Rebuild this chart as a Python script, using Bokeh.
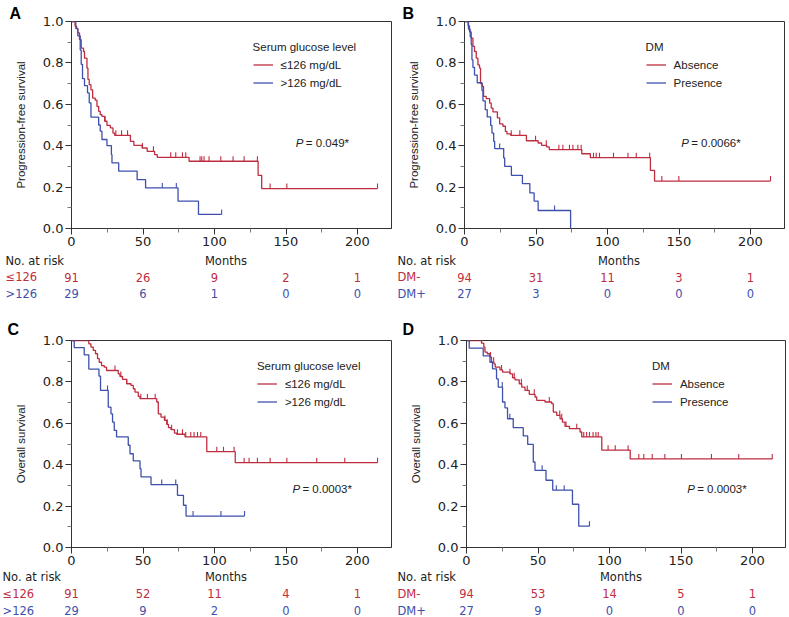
import numpy as np
from bokeh.plotting import figure
from bokeh.models import (FixedTicker, PrintfTickFormatter, Label, Legend,
                          LegendItem, Range1d, Title)
from bokeh.layouts import column, row
from bokeh.embed import file_html
from bokeh.resources import INLINE
from bokeh.core.properties import value

RED = "#BF2D40"
BLUE = "#3E50AD"

# ---------------- data ----------------
risk_months = [0, 50, 100, 150, 200]

# A: progression-free survival by serum glucose level
a_low_t = [2.5, 3.5, 4.4, 5.6, 6.8, 8.4, 9.1, 10.8, 11.5, 12.4, 13.6, 14.8, 16.6, 17.8,
           19.0, 20.1, 21.3, 23.2, 24.8, 27.2, 29.0, 30.2, 41.2, 43.6, 49.4, 52.9, 58.1,
           60.0, 82.2, 130.5, 133.0]
a_low_s = [0.978, 0.967, 0.945, 0.912, 0.871, 0.855, 0.823, 0.775, 0.72, 0.695, 0.67, 0.63,
           0.62, 0.59, 0.566, 0.55, 0.542, 0.518, 0.498, 0.486, 0.461, 0.450, 0.421, 0.402,
           0.389, 0.373, 0.357, 0.344, 0.325, 0.257, 0.193]
a_low_end = 214.0
a_low_cens = [23.5, 31.0, 35.0, 39.2, 49.6, 57.3, 69.4, 72.9, 77.6, 79.9, 89.9, 91.1, 92.7,
              96.2, 104.4, 113.0, 120.7, 130.0, 138.9, 150.6, 214.0]

a_high_t = [3.0, 4.4, 6.1, 6.8, 7.7, 9.1, 11.2, 12.4, 13.6, 19.0, 20.1, 21.3, 24.8, 27.9,
            28.3, 33.0, 45.9, 51.8, 74.5, 88.8]
a_high_s = [0.966, 0.931, 0.862, 0.793, 0.724, 0.69, 0.655, 0.607, 0.538, 0.50, 0.47, 0.43,
            0.40, 0.357, 0.317, 0.277, 0.236, 0.196, 0.132, 0.068]
a_high_end = 105.0
a_high_cens = [63.5, 73.3, 105.0]

# B: progression-free survival by DM
b_abs_t = [2.5, 3.5, 4.7, 5.9, 7.0, 8.2, 9.4, 10.5, 11.2, 12.4, 13.3, 15.2, 17.6, 18.7,
           19.9, 23.0, 24.6, 26.9, 28.6, 29.7, 32.3, 43.3, 51.5, 53.9, 57.4, 59.3, 82.0,
           88.0, 130.0, 132.9]
b_abs_s = [0.979, 0.95, 0.92, 0.88, 0.855, 0.823, 0.79, 0.775, 0.70, 0.687, 0.638, 0.627,
           0.606, 0.582, 0.563, 0.534, 0.505, 0.494, 0.469, 0.457, 0.450, 0.424, 0.413,
           0.402, 0.394, 0.381, 0.361, 0.342, 0.281, 0.229]
b_abs_end = 214.0
b_abs_cens = [32.7, 38.7, 49.7, 57.2, 66.0, 68.8, 73.4, 75.8, 79.3, 81.6, 90.2, 92.1, 94.4,
              104.2, 114.3, 120.1, 129.5, 138.0, 149.9, 214.0]

b_pres_t = [2.8, 4.0, 4.7, 5.2, 5.9, 7.0, 8.9, 12.2, 12.9, 14.5, 15.9, 18.3, 19.2, 20.4,
            21.1, 27.4, 28.1, 32.8, 40.5, 45.7, 48.7, 51.5, 74.2]
b_pres_s = [0.963, 0.926, 0.889, 0.815, 0.778, 0.741, 0.704, 0.667, 0.617, 0.574, 0.539,
            0.498, 0.461, 0.421, 0.386, 0.341, 0.30, 0.257, 0.217, 0.172, 0.132, 0.087, 0.0]
b_pres_end = 74.2
b_pres_cens = [24.6, 63.0]

# C: overall survival by serum glucose level
c_low_t = [12.1, 13.6, 15.2, 16.8, 18.2, 19.4, 21.0, 22.9, 24.5, 32.7, 33.9, 35.7, 38.6,
           41.6, 43.2, 44.4, 46.7, 47.9, 59.6, 60.7, 62.6, 65.0, 66.6, 67.8, 69.6, 72.0,
           73.6, 79.4, 94.6, 114.5]
c_low_s = [0.984, 0.968, 0.952, 0.936, 0.912, 0.895, 0.879, 0.871, 0.855, 0.839, 0.826,
           0.812, 0.791, 0.783, 0.767, 0.751, 0.73, 0.719, 0.703, 0.646, 0.63, 0.614, 0.595,
           0.579, 0.569, 0.553, 0.547, 0.534, 0.463, 0.41]
c_low_end = 214.0
c_low_cens = [30.4, 34.5, 38.6, 48.5, 53.1, 58.5, 65.4, 67.0, 70.0, 74.1, 77.6, 79.9, 83.4,
              85.7, 88.1, 90.4, 101.6, 106.3, 113.7, 120.7, 124.2, 130.0, 138.9, 150.6,
              171.5, 191.1, 214.0]

c_high_t = [1.9, 8.9, 12.1, 19.2, 20.3, 25.7, 27.6, 28.7, 29.9, 31.5, 39.7, 40.9, 43.2,
            47.9, 48.6, 55.6, 74.1, 78.3, 80.1]
c_high_s = [0.966, 0.931, 0.862, 0.828, 0.759, 0.678, 0.646, 0.606, 0.566, 0.534, 0.494,
            0.453, 0.418, 0.381, 0.341, 0.304, 0.252, 0.204, 0.152]
c_high_end = 121.0
c_high_cens = [25.2, 63.1, 72.9, 85.0, 104.5, 121.0]

# D: overall survival by DM
d_abs_t = [10.5, 12.1, 12.9, 14.5, 16.4, 17.5, 19.2, 20.1, 23.4, 25.2, 30.4, 32.2, 33.9,
           36.9, 38.6, 40.9, 43.9, 47.9, 49.1, 54.9, 59.6, 60.7, 63.1, 65.4, 67.1, 68.9,
           72.0, 79.4, 80.6, 94.6, 114.5]
d_abs_s = [0.987, 0.968, 0.944, 0.936, 0.92, 0.895, 0.887, 0.871, 0.858, 0.847, 0.839,
           0.82, 0.81, 0.791, 0.775, 0.759, 0.74, 0.727, 0.711, 0.703, 0.695, 0.654, 0.638,
           0.622, 0.606, 0.585, 0.574, 0.558, 0.534, 0.47, 0.428]
d_abs_end = 214.0
d_abs_cens = [16.8, 19.0, 24.5, 30.4, 33.4, 38.4, 42.5, 47.4, 57.9, 65.2, 66.6, 69.6, 77.1,
              82.0, 84.0, 86.0, 88.5, 90.5, 92.1, 99.0, 104.0, 113.0, 120.5, 124.0, 129.9,
              138.7, 150.3, 171.3, 190.4, 213.8]

d_pres_t = [1.9, 11.7, 16.4, 18.2, 21.0, 22.2, 25.2, 26.9, 28.7, 32.7, 39.7, 42.8, 46.7,
            47.9, 55.6, 60.3, 74.1, 78.5]
d_pres_s = [0.963, 0.926, 0.895, 0.863, 0.815, 0.775, 0.703, 0.675, 0.622, 0.579, 0.539,
            0.498, 0.413, 0.373, 0.325, 0.277, 0.209, 0.103]
d_pres_end = 86.0
d_pres_cens = [25.0, 30.3, 52.9, 62.8, 68.3, 86.0]

# numbers at risk
a_risk_low = [91, 26, 9, 2, 1]
a_risk_high = [29, 6, 1, 0, 0]
b_risk_abs = [94, 31, 11, 3, 1]
b_risk_pres = [27, 3, 0, 0, 0]
c_risk_low = [91, 52, 11, 4, 1]
c_risk_high = [29, 9, 2, 0, 0]
d_risk_abs = [94, 53, 14, 5, 1]
d_risk_pres = [27, 9, 0, 0, 0]

glucose_groups = ["\u2264126 mg/dL", ">126 mg/dL"]
glucose_rows = ["\u2264126", ">126"]
dm_groups = ["Absence", "Presence"]
dm_rows = ["DM-", "DM+"]

# ---------------- styling ----------------
PPM = 1.43          # pixels per month on the time axis
FRAME_H = 207
TICK = 5.0 / FRAME_H
AX_COL = "#333333"
TICK_FONT = "DejaVu Sans"
SANS = "Liberation Sans"
TXT = "#222222"


def km_arrays(t, s, end):
    xs = [0.0] + list(t) + [end]
    ys = [1.0] + list(s) + [s[-1]]
    return xs, ys


def surv_at(t, s, c):
    idx = int(np.searchsorted(np.asarray(t), c, side="right")) - 1
    return 1.0 if idx < 0 else s[idx]


def panel(letter, ylab, leg_title, grp_labels, curves, row_names, risks, ptext, pxy,
          leg_month, width, bl, br, bt, letter_off, letter_standoff, tab_h, rows_y, row_px):
    frame_w = width - bl - br
    xmax = frame_w / PPM
    height = bt + FRAME_H + 23
    p = figure(width=width, height=height, x_range=Range1d(0, xmax), y_range=Range1d(0, 1),
               output_backend="svg", toolbar_location=None, frame_align=False,
               min_border_left=bl, min_border_right=br, min_border_top=bt, min_border_bottom=23)
    p.title = Title(text=letter, align="left", offset=letter_off, standoff=letter_standoff,
                    text_font=SANS, text_font_size="16px", text_font_style="bold",
                    text_color="black")
    p.xgrid.visible = False
    p.ygrid.visible = False
    p.outline_line_color = AX_COL
    p.outline_line_width = 1
    p.background_fill_color = "white"
    p.border_fill_color = "white"

    rends = []
    for (t, s, end, cens), col in zip(curves, [RED, BLUE]):
        xs, ys = km_arrays(t, s, end)
        r = p.step(xs, ys, mode="after", line_color=col, line_width=1.3)
        rends.append(r)
        cy = [surv_at(t, s, c) for c in cens]
        p.segment(x0=cens, y0=cy, x1=cens, y1=[v + TICK for v in cy],
                  line_color=col, line_width=1.1)

    p.xaxis.ticker = FixedTicker(ticks=risk_months, minor_ticks=[25, 75, 125, 175])
    p.yaxis.ticker = FixedTicker(ticks=[0, 0.2, 0.4, 0.6, 0.8, 1.0],
                                 minor_ticks=[0.1, 0.3, 0.5, 0.7, 0.9])
    p.yaxis.formatter = PrintfTickFormatter(format="%.1f")
    for ax in (p.xaxis[0], p.yaxis[0]):
        ax.major_tick_out = 6
        ax.major_tick_in = 0
        ax.minor_tick_out = 4
        ax.minor_tick_in = 0
        ax.axis_line_color = AX_COL
        ax.major_tick_line_color = AX_COL
        ax.minor_tick_line_color = "#777777"
        ax.major_label_text_font = TICK_FONT
        ax.major_label_text_font_size = "13px"
        ax.major_label_text_color = TXT
        ax.major_label_standoff = 2
    p.yaxis.axis_label = ylab
    p.yaxis.axis_label_text_font = SANS
    p.yaxis.axis_label_text_font_size = "11.5px"
    p.yaxis.axis_label_text_font_style = "normal"
    p.yaxis.axis_label_text_color = TXT
    p.yaxis.axis_label_standoff = 13

    leg = Legend(items=[LegendItem(label=grp_labels[0], renderers=[rends[0]]),
                        LegendItem(label=grp_labels[1], renderers=[rends[1]])],
                 title=leg_title, location=(leg_month * PPM, 138),
                 border_line_color=None, background_fill_alpha=0, padding=0, margin=0,
                 spacing=3, glyph_width=20, glyph_height=15, label_height=15,
                 label_standoff=8, title_standoff=4,
                 label_text_font=SANS, label_text_font_size="11.5px",
                 label_text_color=TXT,
                 title_text_font=SANS, title_text_font_size="11.5px",
                 title_text_font_style="normal", title_text_color=TXT)
    p.add_layout(leg)

    # p-value
    p.add_layout(Label(x=pxy[0], y=pxy[1], text="P", text_font=SANS, text_font_size="11.5px",
                       text_font_style="italic", text_baseline="middle", text_color=TXT))
    p.add_layout(Label(x=pxy[0], y=pxy[1], x_offset=10, text=ptext, text_font=SANS,
                       text_font_size="11.5px", text_baseline="middle", text_color=TXT))

    # numbers-at-risk table: own figure sharing the month scale
    t = figure(width=width, height=tab_h,
               x_range=Range1d(-bl / PPM, (width - bl) / PPM),
               y_range=Range1d(tab_h, 0),
               output_backend="svg", toolbar_location=None, frame_align=False,
               x_axis_location=None, y_axis_location=None,
               min_border_left=0, min_border_right=0, min_border_top=0, min_border_bottom=0)
    t.xgrid.visible = False
    t.ygrid.visible = False
    t.outline_line_color = None
    t.border_fill_color = "white"
    t.background_fill_color = "white"
    tf = dict(text_font=value(TICK_FONT), text_font_size="11.5px", text_baseline="middle")
    row_x = (row_px - bl) / PPM
    t.text(x=[row_x], y=[rows_y[0]], text=["No. at risk"], text_color=TXT, **tf)
    t.text(x=[108], y=[rows_y[0]], text=["Months"], text_color=TXT, text_align="center", **tf)
    for name, counts, col, yy in zip(row_names, risks, [RED, BLUE], rows_y[1:]):
        t.text(x=[row_x], y=[yy], text=[name], text_color=col, **tf)
        t.text(x=risk_months, y=[yy] * len(counts), text=[str(n) for n in counts],
               text_color=col, text_align="center", **tf)
    return column(p, t, spacing=0)


TOP_ROWS = [9, 25.7, 42.3]
BOT_ROWS = [6.7, 23.3, 40]

qA = panel("A", "Progression-free survival", "Serum glucose level", glucose_groups,
           [(a_low_t, a_low_s, a_low_end, a_low_cens), (a_high_t, a_high_s, a_high_end, a_high_cens)],
           glucose_rows, [a_risk_low, a_risk_high], "= 0.049*", (156.9, 0.414), 127,
           395, 71, 4, 21, -62, 0, 54, TOP_ROWS, 5)
qB = panel("B", "Progression-free survival", "DM", dm_groups,
           [(b_abs_t, b_abs_s, b_abs_end, b_abs_cens), (b_pres_t, b_pres_s, b_pres_end, b_pres_cens)],
           dm_rows, [b_risk_abs, b_risk_pres], "= 0.0066*", (151.5, 0.415), 127,
           394, 69, 5, 21, -62, 0, 54, TOP_ROWS, 2)
qC = panel("C", "Overall survival", "Serum glucose level", glucose_groups,
           [(c_low_t, c_low_s, c_low_end, c_low_cens), (c_high_t, c_high_s, c_high_end, c_high_cens)],
           glucose_rows, [c_risk_low, c_risk_high], "= 0.0003*", (154.5, 0.284), 130,
           395, 71, 4, 35, -64, 6, 47, BOT_ROWS, 2)
qD = panel("D", "Overall survival", "DM", dm_groups,
           [(d_abs_t, d_abs_s, d_abs_end, d_abs_cens), (d_pres_t, d_pres_s, d_pres_end, d_pres_cens)],
           dm_rows, [d_risk_abs, d_risk_pres], "= 0.0003*", (154.3, 0.284), 130,
           394, 71, 4, 35, -64, 6, 47, BOT_ROWS, 2)

layout = column(row(qA, qB, spacing=0), row(qC, qD, spacing=0), spacing=0)
open("out.html", "w").write(file_html(layout, INLINE))
